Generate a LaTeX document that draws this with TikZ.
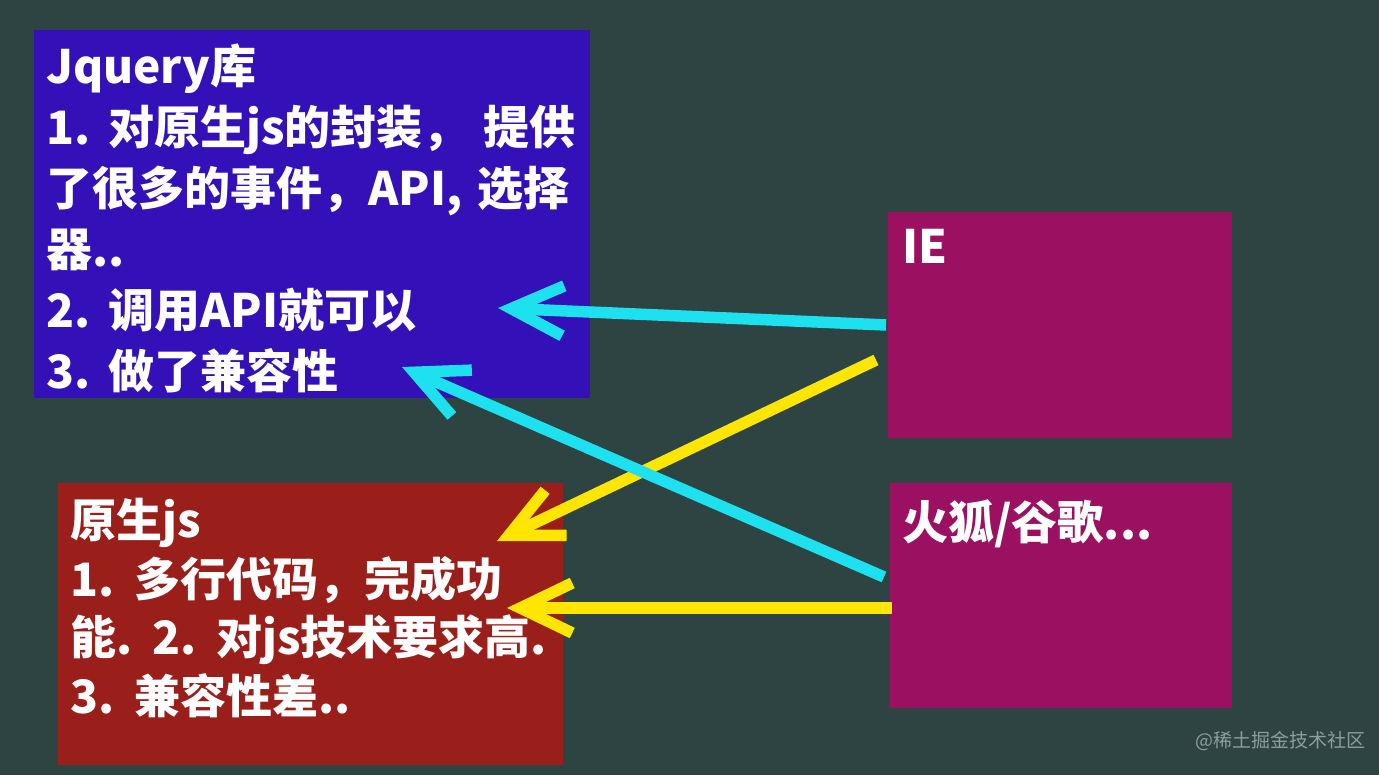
\documentclass[tikz,border=0pt]{standalone}
\usepackage{fontspec}
\newfontfamily\cjk{Noto Sans CJK SC}
\usetikzlibrary{arrows.meta}
\definecolor{bgteal}{RGB}{46,68,67}
\definecolor{jqblue}{RGB}{52,16,184}
\definecolor{nativered}{RGB}{154,31,27}
\definecolor{browserpink}{RGB}{155,16,96}
\definecolor{arrowcyan}{RGB}{30,225,240}
\definecolor{arrowyellow}{RGB}{255,230,0}
\definecolor{markgray}{RGB}{140,158,158}
\newcommand\boxfont{\cjk\bfseries\fontsize{46}{61}\selectfont\spaceskip=0.32em\relax}
\newcommand\nativefont{\cjk\bfseries\fontsize{46}{58.5}\selectfont\spaceskip=0.36em\relax}

\begin{document}
\begin{tikzpicture}[x=1pt, y=-1pt,
  box/.style={inner sep=0pt, anchor=north west},
  boxtext/.style={anchor=north west, inner sep=0pt, align=left, text=white,
    font=\boxfont},
  cyanarrow/.style={draw=arrowcyan, line width=11.5pt,
    -{Straight Barb[length=52pt, width=50pt]}},
  yellowarrow/.style={draw=arrowyellow, line width=11.5pt,
    -{Straight Barb[length=52pt, width=50pt]}}]
  % background
  \fill[bgteal] (0,0) rectangle (1379,775);
  \useasboundingbox (0,0) rectangle (1379,775);

  % boxes
  \node[box, fill=jqblue, minimum width=556pt, minimum height=368pt] (jq) at (34,30) {};
  \node[box, fill=nativered, minimum width=505pt, minimum height=282pt] (native) at (58,483) {};
  \node[box, fill=browserpink, minimum width=344pt, minimum height=226pt] (ie) at (888,212) {};
  \node[box, fill=browserpink, minimum width=342pt, minimum height=225pt] (ff) at (890,483) {};

  % texts
  \node[boxtext] (jqtext) at (46,44) {Jquery库\\1. 对原生js的封装， 提供\\了很多的事件，API, 选择\\器..\\2. 调用API就可以\\3. 做了兼容性};
  \node[boxtext, font=\nativefont] (nativetext) at (70,498) {原生js\\1. 多行代码，完成功\\能. 2. 对js技术要求高.\\3. 兼容性差..};
  \node[boxtext] (ietext) at (902,229) {IE};
  \node[boxtext] (fftext) at (902,500) {火狐/谷歌...};

  % arrow ends
  \coordinate (ieA) at (886,325);
  \coordinate (ieB) at (876,360);
  \coordinate (ffA) at (884,577);
  \coordinate (ffB) at (892,608);
  \coordinate (jqA) at (498,308);
  \coordinate (jqB) at (402,367);
  \coordinate (nativeA) at (497,541);
  \coordinate (nativeB) at (507,608);

  \draw[yellowarrow] (ieB) -- (nativeA);
  \draw[yellowarrow] (ffB) -- (nativeB);
  \draw[cyanarrow] (ieA) -- (jqA);
  \draw[cyanarrow] (ffA) -- (jqB);

  \node[anchor=west, inner sep=0pt, text=markgray, font=\cjk\fontsize{19}{19}\selectfont] (mark) at (1195,741) {@稀土掘金技术社区};
\end{tikzpicture}
\end{document}
